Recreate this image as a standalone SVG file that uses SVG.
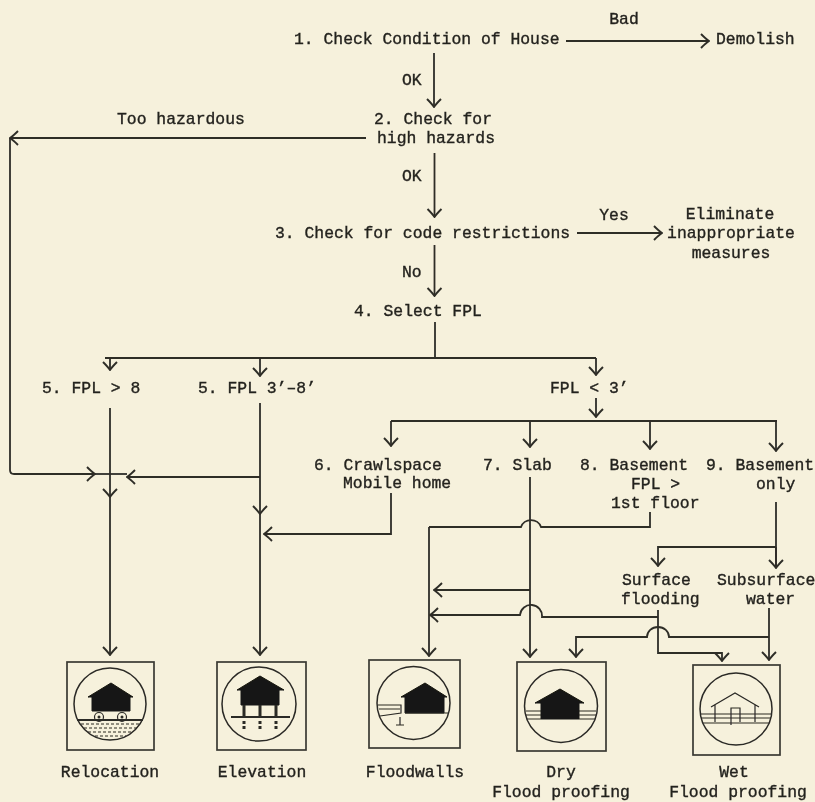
<svg xmlns="http://www.w3.org/2000/svg" width="815" height="802" viewBox="0 0 815 802">
<style>
text{font-family:"Liberation Mono","DejaVu Sans Mono",monospace;font-size:16.4px;fill:#23221e;stroke:#23221e;stroke-width:.35}
.m{text-anchor:middle}
.c path{fill:none;stroke:#2e2d28;stroke-width:1.8}
.a{marker-end:url(#v)}
.box{fill:none;stroke:#3a3933;stroke-width:1.7}
.circ{fill:none;stroke:#2a2925;stroke-width:1.5}
.dk{fill:#151512;stroke:#151512;stroke-width:1}
.ln{fill:none;stroke:#2a2925;stroke-width:1.2}
.thk{fill:none;stroke:#2a2925;stroke-width:1.8}
.pile{fill:none;stroke:#2a2925;stroke-width:3}
</style>
<defs>
<marker id="v" viewBox="-10 -9 11 18" markerUnits="userSpaceOnUse" markerWidth="11" markerHeight="18" refX="0" refY="0" orient="auto">
<path d="M-8,-7 Q-3,-2 0,0 Q-3,2 -8,7" fill="none" stroke="#2e2d28" stroke-width="1.9"/>
</marker>
<filter id="soft" filterUnits="userSpaceOnUse" x="0" y="0" width="815" height="802"><feGaussianBlur stdDeviation="0.35"/></filter>
</defs>
<rect width="815" height="802" fill="#f6f1dc"/>
<g filter="url(#soft)">
<g id="connectors" class="c">
<path class="a" d="M566,41 H709"/>
<path class="a" d="M434,53 V107"/>
<path class="a" d="M366,138 H10"/>
<path class="a" d="M10,138 V470 Q10,474 14,474 H95"/>
<path d="M95,474 H127"/>
<path class="a" d="M260,477 H127"/>
<path class="a" d="M434.500,153 V217"/>
<path class="a" d="M577,233 H662"/>
<path class="a" d="M434.500,245 V296"/>
<path d="M435,322 V358"/>
<path d="M105,358 H596"/>
<path class="a" d="M110,358 V370"/>
<path class="a" d="M260,358 V376"/>
<path class="a" d="M596,358 V375"/>
<path class="a" d="M596,398 V417"/>
<path d="M391,421 H777"/>
<path class="a" d="M391,421 V446"/>
<path class="a" d="M530,421 V447"/>
<path class="a" d="M650,420 V449"/>
<path class="a" d="M776,420 V451"/>
<path class="a" d="M110,408 V497"/>
<path class="a" d="M110,497 V655"/>
<path class="a" d="M260,403 V514"/>
<path class="a" d="M260,514 V655"/>
<path class="a" d="M391,493 V534 H264"/>
<path class="a" d="M530,477 V657"/>
<path d="M650,512 V527 H541 A10.500,10 0 0 0 521,527 H429"/>
<path class="a" d="M429,527 V656"/>
<path class="a" d="M530,590 H434"/>
<path class="a" d="M658,617 H542 A11,11 0 0 0 520,615 H430"/>
<path d="M776,502 V567"/>
<path class="a" d="M776,547 V568"/>
<path class="a" d="M776,547 H658 V566"/>
<path class="a" d="M658,610 V653 H722 V661"/>
<path class="a" d="M769,608 V660"/>
<path class="a" d="M769,637 H669 A11,10 0 0 0 647,637 H576 V657"/>
</g>
<g id="n1"><text x="294" y="44">1. Check Condition of House</text></g>
<g id="bad"><text class="m" x="624" y="24">Bad</text></g>
<g id="demolish"><text x="716" y="44">Demolish</text></g>
<g id="ok1"><text x="402" y="85">OK</text></g>
<g id="n2"><text x="374" y="124">2. Check for</text><text x="377" y="143">high hazards</text></g>
<g id="hazard"><text x="117" y="124">Too hazardous</text></g>
<g id="ok2"><text x="402" y="181">OK</text></g>
<g id="n3"><text x="275" y="238">3. Check for code restrictions</text></g>
<g id="yes"><text class="m" x="614" y="220">Yes</text></g>
<g id="elim"><text class="m" x="730" y="219">Eliminate</text><text class="m" x="731" y="238">inappropriate</text><text class="m" x="731" y="258">measures</text></g>
<g id="no"><text x="402" y="277">No</text></g>
<g id="n4"><text x="354" y="316">4. Select FPL</text></g>
<g id="n5a"><text x="42" y="393">5. FPL &gt; 8</text></g>
<g id="n5b"><text x="198" y="393">5. FPL 3’–8’</text></g>
<g id="n5c"><text x="550" y="393">FPL &lt; 3’</text></g>
<g id="n6"><text x="314" y="470">6. Crawlspace</text><text x="343" y="488">Mobile home</text></g>
<g id="n7"><text x="483" y="470">7. Slab</text></g>
<g id="n8"><text x="580" y="470">8. Basement</text><text x="631" y="489">FPL &gt;</text><text x="611" y="508">1st floor</text></g>
<g id="n9"><text x="706" y="470">9. Basement</text><text x="756" y="489">only</text></g>
<g id="surface"><text x="622" y="585">Surface</text><text x="621" y="604">flooding</text></g>
<g id="subsurface"><text x="717" y="585">Subsurface</text><text x="746" y="604">water</text></g>

<g id="relocation">
<rect class="box" x="67" y="662" width="87" height="88"/>
<circle class="circ" cx="110" cy="704" r="36"/>
<path class="dk" d="M88,697 L111,683 L133,697 L130,697 V711 H92 V697 Z"/>
<circle class="ln" cx="99" cy="717" r="4.500"/><circle class="ln" cx="122" cy="717" r="4.500"/>
<circle cx="99" cy="717" r="1.500" fill="#2a2925"/><circle cx="122" cy="717" r="1.500" fill="#2a2925"/>
<path class="thk" d="M77,720 H143"/>
<path class="ln" stroke-dasharray="3 2" d="M81,724 H140 M84,728 H137 M88,732 H133 M95,736 H126"/>
<text class="m" x="110" y="777">Relocation</text>
</g>
<g id="elevation">
<rect class="box" x="217" y="662" width="89" height="88"/>
<circle class="circ" cx="259" cy="704" r="37"/>
<path class="dk" d="M237,690 L260,676 L284,690 L279,690 V705 H241 V690 Z"/>
<path class="pile" d="M244,705 V717 M260,705 V717 M276,705 V717"/>
<path class="thk" d="M231,717 H290"/>
<path class="pile" stroke-dasharray="3 2" d="M244,721 V731 M260,721 V731 M276,721 V731"/>
<text class="m" x="262" y="777">Elevation</text>
</g>
<g id="floodwalls">
<rect class="box" x="369" y="660" width="91" height="88"/>
<circle class="circ" cx="413.500" cy="703" r="36.500"/>
<path class="dk" d="M401,697 L425,683 L447,697 L444,697 V713 H405 V697 Z"/>
<path class="ln" d="M378,705 H401 V713 L380,716 M379,709 H400 M405,713 H448"/>
<path class="ln" d="M400,717 V725 M396,725 H404"/>
<text class="m" x="415" y="777">Floodwalls</text>
</g>
<g id="dry">
<rect class="box" x="517" y="662" width="89" height="89"/>
<circle class="circ" cx="561" cy="706" r="36.500"/>
<path class="dk" d="M535,703 L560,689 L584,703 L579,703 V719 H541 V703 Z"/>
<path class="ln" d="M526,711 H541 M526,715 H541 M527,719 H541 M579,711 H596 M579,715 H596 M579,719 H595"/>
<text class="m" x="561" y="777">Dry</text>
<text class="m" x="561" y="797">Flood proofing</text>
</g>
<g id="wet">
<rect class="box" x="693" y="665" width="87" height="90"/>
<circle class="circ" cx="736" cy="709" r="36"/>
<path class="ln" d="M711,707 L735,693 L759,707 M715,705 V722 M755,705 V722"/>
<path class="ln" d="M731,725 V708 H740 V722"/>
<path class="ln" d="M701,714 H771 M701,718 H771 M703,723 H769"/>
<text class="m" x="734" y="777">Wet</text>
<text class="m" x="738" y="797">Flood proofing</text>
</g>
</g>
</svg>
